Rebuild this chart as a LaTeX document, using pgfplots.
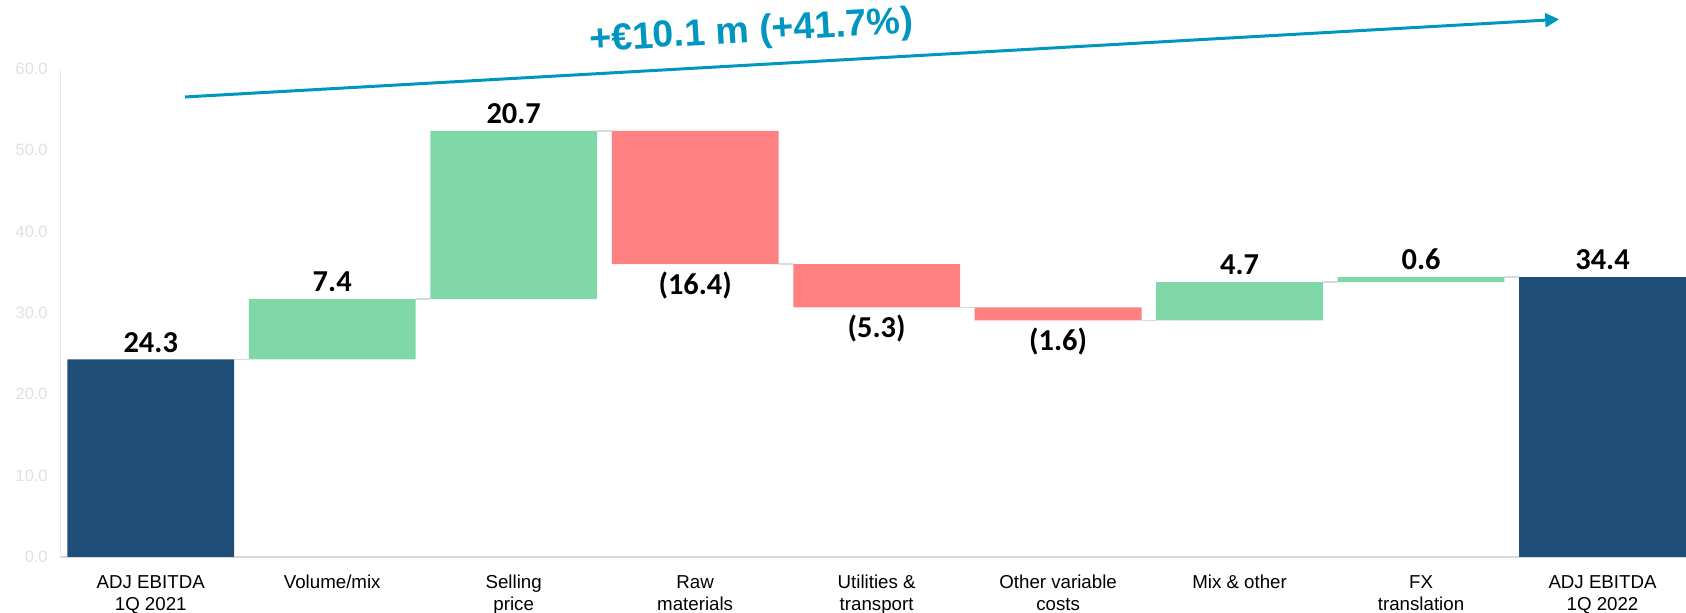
\documentclass[border=0pt]{standalone}
\usepackage{fontspec}
\setmainfont{Liberation Sans}
\newfontfamily\valuefont{Carlito}
\usepackage{pgfplots}
\pgfplotsset{compat=1.18}
\usetikzlibrary{arrows.meta}

\definecolor{ebitda}{RGB}{31,78,121}
\definecolor{up}{RGB}{128,216,168}
\definecolor{down}{RGB}{255,128,128}
\definecolor{bridge}{RGB}{0,150,192}
\definecolor{conn}{RGB}{217,217,217}

\pgfplotsset{
  bridgeframe/.style={
    at={(0,0)}, anchor=south west, scale only axis,
    width=813pt, height=244pt,
    xmin=-0.5, xmax=8.46, ymin=0, ymax=60,
  },
}

\begin{document}
\begin{tikzpicture}[x=1pt,y=1pt]
\useasboundingbox (-30,-28) rectangle (813,278.5);

% bars of the EBITDA bridge
\begin{axis}[bridgeframe,
  ybar stacked, bar width=0.919,
  axis x line*=bottom, axis y line*=left,
  x axis line style={conn, line width=0.75pt},
  y axis line style={black!8, line width=0.5pt},
  major tick length=0pt,
  xtick={0,...,8},
  xticklabels={{ADJ EBITDA\\1Q 2021},{Volume/mix},{Selling\\price},{Raw\\materials},
    {Utilities \&\\transport},{Other variable\\costs},{Mix \& other},{FX\\translation},
    {ADJ EBITDA\\1Q 2022}},
  xticklabel style={align=center, anchor=north, inner sep=0pt, yshift=-9pt,
    font=\fontsize{9.35}{10.95}\selectfont, text=black},
  ytick={0,10,...,60},
  yticklabel={\pgfmathprintnumber[fixed,fixed zerofill,precision=1,assume math mode=true]{\tick}},
  yticklabel style={anchor=east, inner sep=0pt, xshift=-6pt,
    font=\fontsize{8.2}{10}\selectfont, text=black!12},
]
% invisible base of each floating bar
\addplot[draw=none, fill=none] coordinates
  {(0,0) (1,24.3) (2,31.7) (3,36.0) (4,30.7) (5,29.1) (6,29.1) (7,33.8) (8,0)};
% totals
\addplot[draw=none, fill=ebitda] coordinates
  {(0,24.3) (1,0) (2,0) (3,0) (4,0) (5,0) (6,0) (7,0) (8,34.4)};
% increases
\addplot[draw=none, fill=up] coordinates
  {(0,0) (1,7.4) (2,20.7) (3,0) (4,0) (5,0) (6,4.7) (7,0.6) (8,0)};
% decreases
\addplot[draw=none, fill=down] coordinates
  {(0,0) (1,0) (2,0) (3,16.4) (4,5.3) (5,1.6) (6,0) (7,0) (8,0)};
\end{axis}

% connectors, value labels and the overall change
\begin{axis}[bridgeframe, hide axis, clip=false]
\addplot[conn, line width=0.75pt] coordinates {(0.4595,24.3) (0.5405,24.3)};
\addplot[conn, line width=0.75pt] coordinates {(1.4595,31.7) (1.5405,31.7)};
\addplot[conn, line width=0.75pt] coordinates {(2.4595,52.4) (2.5405,52.4)};
\addplot[conn, line width=0.75pt] coordinates {(3.4595,36.0) (3.5405,36.0)};
\addplot[conn, line width=0.75pt] coordinates {(4.4595,30.7) (4.5405,30.7)};
\addplot[conn, line width=0.75pt] coordinates {(5.4595,29.1) (5.5405,29.1)};
\addplot[conn, line width=0.75pt] coordinates {(6.4595,33.8) (6.5405,33.8)};
\addplot[conn, line width=0.75pt] coordinates {(7.4595,34.4) (7.5405,34.4)};

\tikzset{val/.style={anchor=base, inner sep=0pt, font=\valuefont\bfseries\fontsize{15.2}{17}\selectfont}}
\node[val] at (axis cs:0,25.2) {24.3};
\node[val] at (axis cs:1,32.6) {7.4};
\node[val] at (axis cs:2,53.3) {20.7};
\node[val] at (axis cs:3,32.3) {(16.4)};
\node[val] at (axis cs:4,27.0) {(5.3)};
\node[val] at (axis cs:5,25.4) {(1.6)};
\node[val] at (axis cs:6,34.7) {4.7};
\node[val] at (axis cs:7,35.3) {0.6};
\node[val] at (axis cs:8,35.3) {34.4};

\draw[bridge, line width=1.5pt, -{Triangle[length=7pt,width=7pt]}]
  (axis cs:0.189,56.56) -- (axis cs:7.761,66.1);
\node[bridge, rotate=3.4, inner sep=0pt,
  font=\bfseries\fontsize{18.8}{21}\selectfont] at (axis cs:3.31,64.5) {+€10.1 m (+41.7\%)};
\end{axis}
\end{tikzpicture}
\end{document}
